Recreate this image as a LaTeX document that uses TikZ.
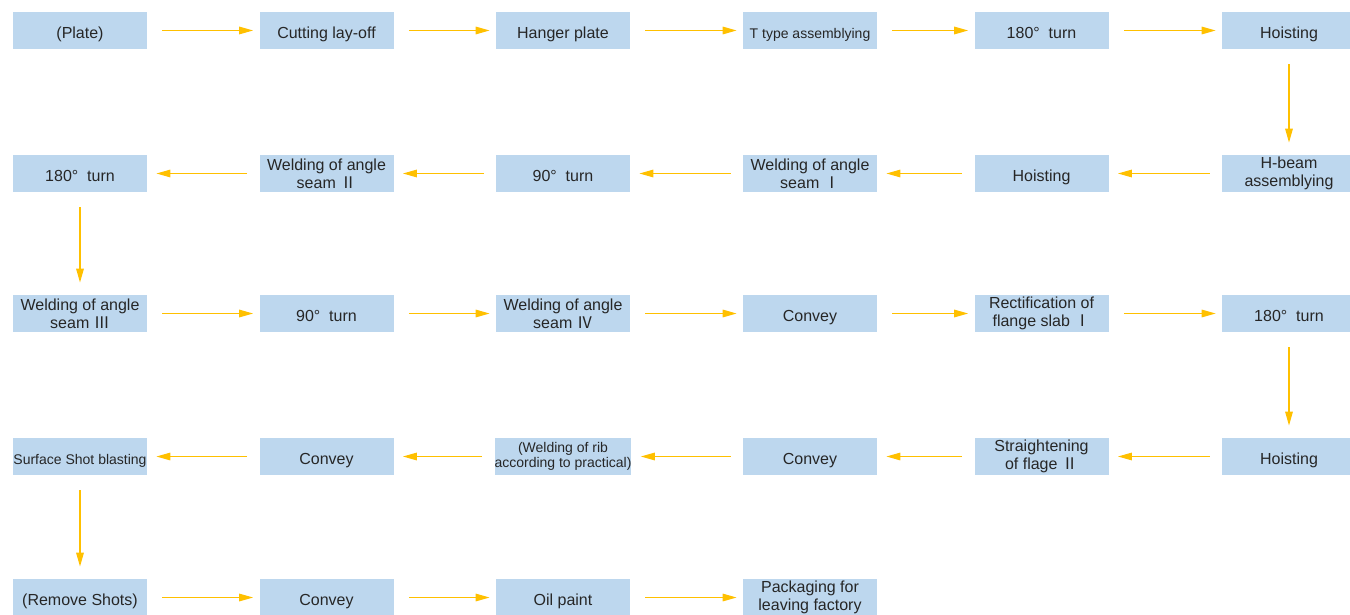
\documentclass[tikz,border=0pt]{standalone}
\usepackage{fontspec}
\setmainfont{Liberation Sans}
\newfontfamily\cjk{Noto Sans CJK SC}
\usetikzlibrary{arrows.meta}
\definecolor{boxblue}{RGB}{189,215,238}
\definecolor{flow}{RGB}{255,192,0}
\tikzstyle{stepbox} = [
    rectangle,
    fill=boxblue,
    minimum width=67pt,
    minimum height=18.5pt,
    inner sep=0pt,
    align=center,
    text=black!85,
    font=\fontsize{8}{9}\selectfont
]
\tikzstyle{oneline} = [text height=8pt, text depth=0pt]
\tikzstyle{small} = [font=\fontsize{7}{7.8}\selectfont]
\tikzstyle{tran}  = [
    draw=flow,
    line width=0.6pt,
    -{Triangle[length=7pt,width=3.8pt]}
]
\tikzstyle{tranr} = [tran, shorten <=7.5pt, shorten >=3pt]
\tikzstyle{tranl} = [tran, shorten <=6pt, shorten >=4.5pt]
\tikzstyle{trand} = [tran, shorten <=7.5pt, shorten >=6pt]
\newcommand{\rmn}[1]{{\cjk #1}}

\begin{document}
\begin{tikzpicture}[x=0.5pt, y=-0.5pt]
\useasboundingbox (0,0) rectangle (1350,615);

% first row
\node[stepbox, oneline] (s00) at (80,30.5)     {(Plate)};
\node[stepbox, oneline] (s01) at (326.5,30.5)  {Cutting lay-off};
\node[stepbox, oneline] (s02) at (563,30.5)    {Hanger plate};
\node[stepbox, oneline, small] (s03) at (810,30.5) {T type assemblying};
\node[stepbox, oneline] (s04) at (1041.5,30.5) {180°\ \ turn};
\node[stepbox, oneline] (s05) at (1289,30.5)   {Hoisting};

% second row
\node[stepbox] (s15) at (1289,173.5)   {H-beam\\assemblying};
\node[stepbox, oneline] (s14) at (1041.5,173.5) {Hoisting};
\node[stepbox] (s13) at (810,173.5)    {Welding of angle\\seam \rmn{Ⅰ}};
\node[stepbox, oneline] (s12) at (563,173.5)    {90°\ \ turn};
\node[stepbox] (s11) at (326.5,173.5)  {Welding of angle\\seam \rmn{Ⅱ}};
\node[stepbox, oneline] (s10) at (80,173.5)     {180°\ \ turn};

% third row
\node[stepbox] (s20) at (80,313.5)     {Welding of angle\\seam \rmn{Ⅲ}};
\node[stepbox, oneline] (s21) at (326.5,313.5)  {90°\ \ turn};
\node[stepbox] (s22) at (563,313.5)    {Welding of angle\\seam \rmn{Ⅳ}};
\node[stepbox, oneline] (s23) at (810,313.5)    {Convey};
\node[stepbox] (s24) at (1041.5,313.5) {Rectification of\\flange slab \rmn{Ⅰ}};
\node[stepbox, oneline] (s25) at (1289,313.5)   {180°\ \ turn};

% fourth row
\node[stepbox, oneline] (s35) at (1289,456.5)   {Hoisting};
\node[stepbox] (s34) at (1041.5,456.5) {Straightening\\of flage \rmn{Ⅱ}};
\node[stepbox, oneline] (s33) at (810,456.5)    {Convey};
\node[stepbox, small] (s32) at (563,456.5) {(Welding of rib\\according to practical)};
\node[stepbox, oneline] (s31) at (326.5,456.5)  {Convey};
\node[stepbox, oneline, small] (s30) at (80,456.5) {Surface Shot blasting};

% fifth row
\node[stepbox, oneline] (s40) at (80,597.5)     {(Remove Shots)};
\node[stepbox, oneline] (s41) at (326.5,597.5)  {Convey};
\node[stepbox, oneline] (s42) at (563,597.5)    {Oil paint};
\node[stepbox] (s43) at (810,597.5)    {Packaging for\\leaving factory};

\draw[tranr] (s00) to (s01);
\draw[tranr] (s01) to (s02);
\draw[tranr] (s02) to (s03);
\draw[tranr] (s03) to (s04);
\draw[tranr] (s04) to (s05);
\draw[trand] (s05) to (s15);

\draw[tranl] (s15) to (s14);
\draw[tranl] (s14) to (s13);
\draw[tranl] (s13) to (s12);
\draw[tranl] (s12) to (s11);
\draw[tranl] (s11) to (s10);
\draw[trand] (s10) to (s20);

\draw[tranr] (s20) to (s21);
\draw[tranr] (s21) to (s22);
\draw[tranr] (s22) to (s23);
\draw[tranr] (s23) to (s24);
\draw[tranr] (s24) to (s25);
\draw[trand] (s25) to (s35);

\draw[tranl] (s35) to (s34);
\draw[tranl] (s34) to (s33);
\draw[tranl] (s33) to (s32);
\draw[tranl] (s32) to (s31);
\draw[tranl] (s31) to (s30);
\draw[trand] (s30) to (s40);

\draw[tranr] (s40) to (s41);
\draw[tranr] (s41) to (s42);
\draw[tranr] (s42) to (s43);

\end{tikzpicture}
\end{document}
